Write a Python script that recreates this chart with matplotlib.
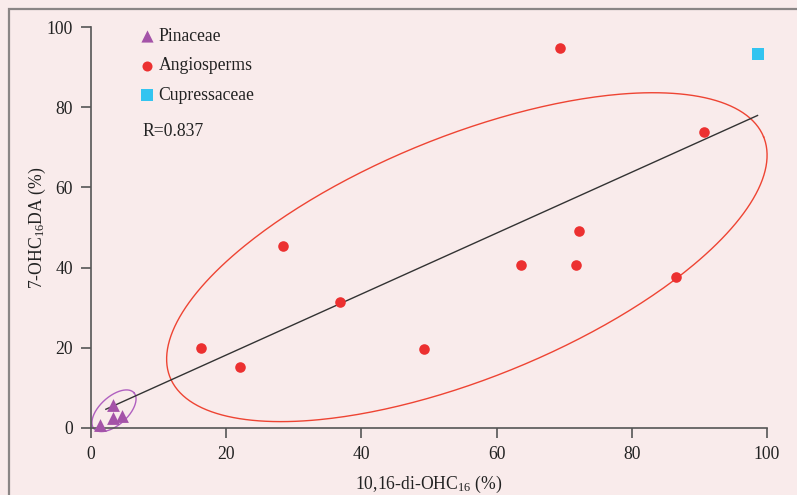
import matplotlib
matplotlib.use("Agg")
import matplotlib.pyplot as plt
import matplotlib.patches as mpatches
import numpy as np

# ── Data ──────────────────────────────────────────────────────────────────────
pin_x = [3.2, 3.2, 4.6, 1.4]
pin_y = [5.7, 2.4, 3.1, 0.7]

ang_x = [28.4, 36.9, 16.2, 22.1, 49.2, 72.2, 63.6, 71.7, 86.5, 69.4, 90.7]
ang_y = [45.5, 31.5, 20.0, 15.3, 19.6, 49.1, 40.7, 40.6, 37.6, 94.8, 73.9]

cup_x = [98.7]
cup_y = [93.2]

fit_slope = 0.76
fit_intercept = 3.0
fit_range = [2.2, 98.6]
r_value = 0.837

ticks = [0, 20, 40, 60, 80, 100]

# ellipses: centre, major-axis vector, minor-axis vector (data units)
red_ell = dict(c=(55.6, 42.6), u=(43.9, 30.0), v=(-6.73, 27.96))
pur_ell = dict(c=(3.4, 4.3), u=(2.95, 4.5), v=(-1.4, 2.6))

# ── Style ─────────────────────────────────────────────────────────────────────
plt.rcParams["font.family"] = ["Liberation Serif", "DejaVu Serif"]
plt.rcParams["mathtext.fontset"] = "custom"
plt.rcParams["mathtext.rm"] = "Liberation Serif"
plt.rcParams["mathtext.it"] = "Liberation Serif:italic"

BG = "#f9ebeb"
AX_COL = "#555555"
TXT = "#222222"
RED = "#ec3030"
PURPLE = "#a453a8"
CYAN = "#33c4f0"
FS = 12.7

fig = plt.figure(figsize=(7.97, 4.95), dpi=100, facecolor=BG)
fig.patches.append(mpatches.Rectangle(
    (9 / 797, -0.1), 1.2, 1.1 - 9 / 495, transform=fig.transFigure,
    facecolor="none", edgecolor="#8a8585", linewidth=1.6, zorder=0))

ax = fig.add_axes([91 / 797, 67 / 495, 676 / 797, 401 / 495])
ax.set_facecolor(BG)
ax.patch.set_alpha(0)

for side in ("top", "right"):
    ax.spines[side].set_visible(False)
for side in ("left", "bottom"):
    ax.spines[side].set_color(AX_COL)
    ax.spines[side].set_linewidth(1.2)

ax.set_xlim(0, 100)
ax.set_ylim(0, 100)
ax.set_xticks(ticks)
ax.set_yticks(ticks)
ax.tick_params(direction="out", length=7, width=1.2, color=AX_COL,
               labelsize=FS, labelcolor=TXT, pad=6)

# ── Ellipses ──────────────────────────────────────────────────────────────────
t = np.linspace(0, 2 * np.pi, 400)
for ell, col in ((red_ell, "#ee4433"), (pur_ell, "#b060c0")):
    ex = ell["c"][0] + ell["u"][0] * np.cos(t) + ell["v"][0] * np.sin(t)
    ey = ell["c"][1] + ell["u"][1] * np.cos(t) + ell["v"][1] * np.sin(t)
    ax.plot(ex, ey, color=col, linewidth=1.0, clip_on=False, zorder=2)

# ── Regression line ───────────────────────────────────────────────────────────
fx = np.array(fit_range)
ax.plot(fx, fit_slope * fx + fit_intercept, color="#333333", linewidth=1.0, zorder=3)

# ── Points ────────────────────────────────────────────────────────────────────
ax.scatter(pin_x, pin_y, marker="^", s=85, color=PURPLE, linewidths=0,
           label="Pinaceae", clip_on=False, zorder=4)
ax.scatter(ang_x, ang_y, marker="o", s=58, color=RED, linewidths=0,
           label="Angiosperms", clip_on=False, zorder=4)
ax.scatter(cup_x, cup_y, marker="s", s=70, color=CYAN, linewidths=0,
           label="Cupressaceae", clip_on=False, zorder=4)

leg = ax.legend(loc="upper left", bbox_to_anchor=(0.06, 1.016), frameon=False,
                fontsize=FS, handletextpad=0.12, labelspacing=0.72,
                borderaxespad=0, handlelength=1.0, scatterpoints=1,
                markerscale=0.95)
for txt in leg.get_texts():
    txt.set_color(TXT)

ax.text(0.076, 0.74, f"R={r_value}", transform=ax.transAxes, fontsize=FS,
        color=TXT, va="center", ha="left")

ax.set_xlabel(r"10,16-di-OHC$_{\mathrm{16}}$ (%)", fontsize=FS, color=TXT,
              labelpad=8)
ax.set_ylabel(r"7-OHC$_{\mathrm{16}}$DA (%)", fontsize=FS, color=TXT,
              labelpad=-1)

fig.savefig("out.png", dpi=100, facecolor=BG)
